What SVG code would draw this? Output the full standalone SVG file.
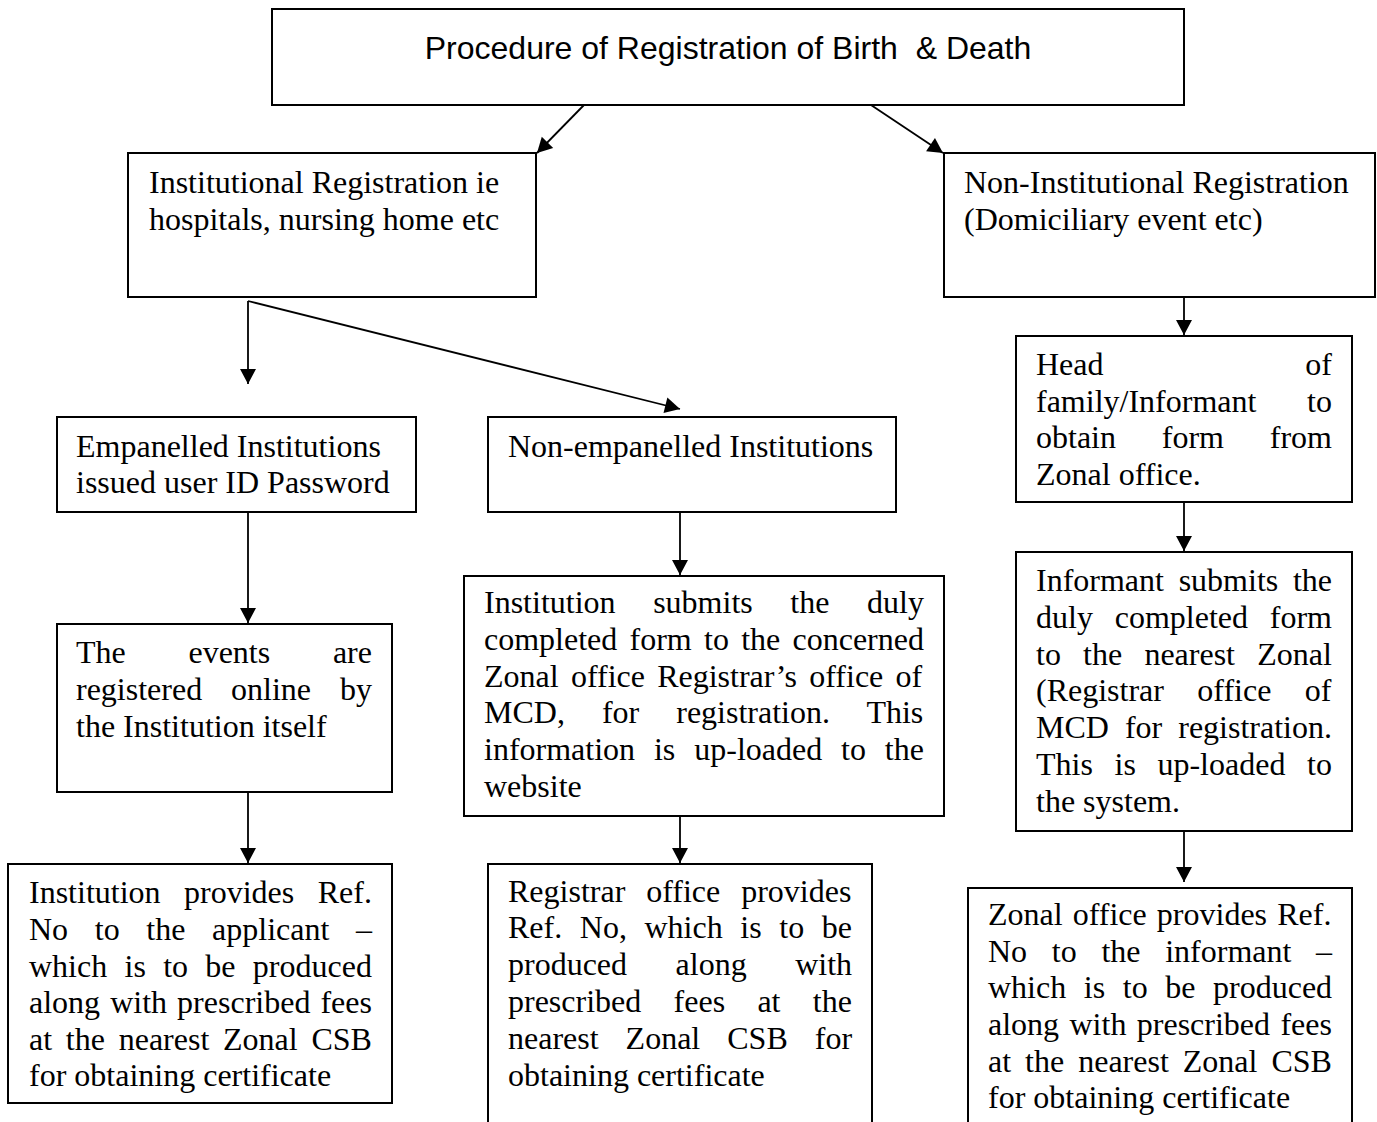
<svg xmlns="http://www.w3.org/2000/svg" width="1377" height="1122" viewBox="0 0 1377 1122">
<style>
.box{fill:#fff;stroke:#000;stroke-width:2}
.open{fill:none;stroke:#000;stroke-width:2}
.t{font-family:"Liberation Serif","Times New Roman",serif;font-size:32px;fill:#000}
.h{font-family:"Liberation Sans",Arial,sans-serif;font-size:32px;fill:#000}
.c line{stroke:#000;stroke-width:1.8;marker-end:url(#ah)}
</style>
<defs>
<marker id="ah" markerUnits="userSpaceOnUse" markerWidth="16" markerHeight="16" refX="15" refY="8" orient="auto" overflow="visible">
<path d="M0,0 L15,8 L0,16 z" fill="#000"/>
</marker>
</defs>
<rect width="1377" height="1122" fill="#fff"/>

<g id="connectors" class="c">
<line x1="584" y1="105" x2="537" y2="153"/>
<line x1="871" y1="105" x2="943" y2="153"/>
<line x1="248" y1="301" x2="248" y2="384"/>
<line x1="248" y1="301" x2="680" y2="409"/>
<line x1="1184" y1="298" x2="1184" y2="335"/>
<line x1="1184" y1="502" x2="1184" y2="551"/>
<line x1="1184" y1="832" x2="1184" y2="882"/>
<line x1="248" y1="513" x2="248" y2="623"/>
<line x1="248" y1="793" x2="248" y2="863"/>
<line x1="680" y1="513" x2="680" y2="575"/>
<line x1="680" y1="817" x2="680" y2="863"/>
</g>

<g id="title">
<rect class="box" x="272" y="9" width="912" height="96"/>
<text class="h" x="728" y="59" text-anchor="middle" xml:space="preserve">Procedure of Registration of Birth  &amp; Death</text>
</g>

<g id="institutional">
<rect class="box" x="128" y="153" width="408" height="144"/>
<text class="t" x="149" y="193">Institutional Registration ie</text>
<text class="t" x="149" y="230">hospitals, nursing home etc</text>
</g>

<g id="non-institutional">
<rect class="box" x="944" y="153" width="431" height="144"/>
<text class="t" x="964" y="193">Non-Institutional Registration</text>
<text class="t" x="964" y="230">(Domiciliary event etc)</text>
</g>

<g id="empanelled">
<rect class="box" x="57" y="417" width="359" height="95"/>
<text class="t" x="76" y="457">Empanelled Institutions</text>
<text class="t" x="76" y="493">issued user ID Password</text>
</g>

<g id="non-empanelled">
<rect class="box" x="488" y="417" width="408" height="95"/>
<text class="t" x="508" y="457">Non-empanelled Institutions</text>
</g>

<g id="head-of-family">
<rect class="box" x="1016" y="336" width="336" height="166"/>
<text class="t" x="1036" y="375" style="word-spacing:193.8px">Head of</text>
<text class="t" x="1036" y="412" style="word-spacing:42.7px">family/Informant to</text>
<text class="t" x="1036" y="448" style="word-spacing:37.8px">obtain form from</text>
<text class="t" x="1036" y="485">Zonal office.</text>
</g>

<g id="events-online">
<rect class="box" x="57" y="624" width="335" height="168"/>
<text class="t" x="76" y="663" style="word-spacing:54.7px">The events are</text>
<text class="t" x="76" y="700" style="word-spacing:20.9px">registered online by</text>
<text class="t" x="76" y="737">the Institution itself</text>
</g>

<g id="institution-submits">
<rect class="box" x="464" y="576" width="480" height="240"/>
<text class="t" x="484" y="613" style="word-spacing:29.6px">Institution submits the duly</text>
<text class="t" x="484" y="650" style="word-spacing:4.25px">completed form to the concerned</text>
<text class="t" x="484" y="687" style="word-spacing:4.25px">Zonal office Registrar’s office of</text>
<text class="t" x="484" y="723" style="word-spacing:29px">MCD, for registration. This</text>
<text class="t" x="484" y="760" style="word-spacing:10.9px">information is up-loaded to the</text>
<text class="t" x="484" y="797">website</text>
</g>

<g id="informant-submits">
<rect class="box" x="1016" y="552" width="336" height="279"/>
<text class="t" x="1036" y="591" style="word-spacing:6.7px">Informant submits the</text>
<text class="t" x="1036" y="628" style="word-spacing:13.8px">duly completed form</text>
<text class="t" x="1036" y="665" style="word-spacing:14.2px">to the nearest Zonal</text>
<text class="t" x="1036" y="701" style="word-spacing:25.4px">(Registrar office of</text>
<text class="t" x="1036" y="738" style="word-spacing:8px">MCD for registration.</text>
<text class="t" x="1036" y="775" style="word-spacing:13.6px">This is up-loaded to</text>
<text class="t" x="1036" y="812">the system.</text>
</g>

<g id="institution-provides">
<rect class="box" x="8" y="864" width="384" height="239"/>
<text class="t" x="29" y="903" style="word-spacing:15.5px">Institution provides Ref.</text>
<text class="t" x="29" y="940" style="word-spacing:18.65px">No to the applicant –</text>
<text class="t" x="29" y="977" style="word-spacing:9.3px">which is to be produced</text>
<text class="t" x="29" y="1013" style="word-spacing:2.07px">along with prescribed fees</text>
<text class="t" x="29" y="1050" style="word-spacing:5.75px">at the nearest Zonal CSB</text>
<text class="t" x="29" y="1086">for obtaining certificate</text>
</g>

<g id="registrar-provides">
<path class="open" d="M488,1124 V864 H872 V1124"/>
<text class="t" x="508" y="902" style="word-spacing:12.9px">Registrar office provides</text>
<text class="t" x="508" y="938" style="word-spacing:9.6px">Ref. No, which is to be</text>
<text class="t" x="508" y="975" style="word-spacing:40.5px">produced along with</text>
<text class="t" x="508" y="1012" style="word-spacing:24.3px">prescribed fees at the</text>
<text class="t" x="508" y="1049" style="word-spacing:19px">nearest Zonal CSB for</text>
<text class="t" x="508" y="1086">obtaining certificate</text>
</g>

<g id="zonal-provides">
<path class="open" d="M968,1124 V888 H1352 V1124"/>
<text class="t" x="988" y="925" style="word-spacing:2.1px">Zonal office provides Ref.</text>
<text class="t" x="988" y="962" style="word-spacing:16.7px">No to the informant –</text>
<text class="t" x="988" y="998" style="word-spacing:9.6px">which is to be produced</text>
<text class="t" x="988" y="1035" style="word-spacing:2.4px">along with prescribed fees</text>
<text class="t" x="988" y="1072" style="word-spacing:6px">at the nearest Zonal CSB</text>
<text class="t" x="988" y="1108">for obtaining certificate</text>
</g>
</svg>
